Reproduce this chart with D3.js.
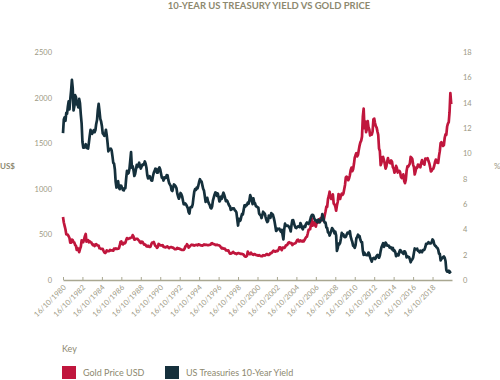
<!DOCTYPE html>
<html>
<head>
<meta charset="utf-8">
<script src="https://cdn.jsdelivr.net/npm/d3@7"></script>
<style>
body { margin: 0; background: #fff; }
text { font-family: Lato, "Open Sans", sans-serif; }
</style>
</head>
<body>
<script>
// monthly values, first one is 16/10/1980
var goldPrice = [
  690, 630, 594,
  557, 500, 499, 495, 480, 460, 409, 410, 443, 437, 413, 410,
  384, 374, 330, 350, 334, 305, 339, 364, 435, 422, 415, 444,
  481, 505, 420, 432, 438, 413, 423, 416, 411, 394, 382, 388,
  371, 388, 394, 381, 377, 378, 348, 348, 341, 340, 341, 320,
  303, 296, 304, 325, 316, 317, 317, 330, 323, 325, 325, 322,
  345, 339, 346, 340, 342, 343, 348, 376, 418, 423, 396, 390,
  408, 401, 408, 438, 460, 450, 450, 460, 460, 466, 466, 492,
  477, 443, 443, 452, 451, 451, 437, 432, 412, 406, 420, 419,
  404, 388, 390, 384, 371, 367, 375, 365, 362, 367, 393, 409,
  410, 417, 393, 374, 369, 352, 362, 395, 389, 380, 381, 378,
  383, 364, 363, 358, 357, 367, 368, 356, 349, 359, 360, 361,
  354, 354, 345, 338, 337, 341, 353, 343, 345, 344, 335, 334,
  329, 329, 330, 342, 367, 372, 392, 378, 355, 364, 374, 383,
  387, 382, 384, 377, 381, 385, 385, 380, 391, 389, 384, 379,
  379, 376, 382, 391, 385, 387, 386, 383, 383, 383, 386, 387,
  400, 405, 396, 393, 392, 385, 383, 387, 383, 381, 378, 369,
  355, 346, 352, 344, 344, 341, 324, 324, 323, 325, 306, 289,
  289, 297, 296, 308, 299, 292, 293, 284, 289, 296, 294, 291,
  287, 287, 286, 282, 277, 261, 256, 257, 265, 311, 293, 283,
  284, 300, 286, 280, 275, 285, 282, 274, 273, 270, 266, 272,
  266, 262, 263, 261, 272, 270, 268, 273, 283, 283, 276, 276,
  282, 296, 294, 302, 314, 322, 314, 310, 319, 317, 319, 333,
  357, 359, 340, 328, 355, 356, 351, 360, 379, 379, 389, 407,
  414, 405, 406, 404, 384, 392, 398, 401, 406, 420, 439, 442,
  424, 423, 434, 429, 422, 431, 424, 438, 456, 470, 476, 510,
  549, 555, 557, 610, 676, 596, 633, 632, 599, 585, 627, 629,
  631, 665, 655, 679, 667, 655, 665, 665, 712, 754, 806, 803,
  889, 922, 968, 909, 888, 889, 939, 839, 829, 806, 760, 816,
  858, 943, 924, 890, 928, 946, 934, 949, 996, 1043, 1127, 1134,
  1118, 1095, 1113, 1149, 1205, 1232, 1193, 1215, 1271, 1342, 1370, 1391,
  1356, 1372, 1424, 1474, 1510, 1528, 1572, 1790, 1880, 1665, 1739, 1620,
  1656, 1742, 1674, 1650, 1585, 1596, 1594, 1626, 1760, 1770, 1721, 1688,
  1671, 1627, 1593, 1440, 1414, 1260, 1286, 1347, 1349, 1316, 1275, 1221,
  1244, 1300, 1336, 1299, 1288, 1279, 1311, 1296, 1238, 1222, 1176, 1200,
  1251, 1227, 1178, 1198, 1198, 1182, 1131, 1117, 1125, 1159, 1086, 1062,
  1097, 1199, 1246, 1242, 1260, 1276, 1350, 1341, 1326, 1266, 1238, 1157,
  1192, 1234, 1231, 1266, 1246, 1260, 1236, 1283, 1315, 1280, 1275, 1265,
  1331, 1331, 1324, 1335, 1304, 1281, 1238, 1190, 1198, 1215, 1221, 1250,
  1291, 1320, 1301, 1286, 1284, 1359, 1413, 1500, 1511, 1495, 1470, 1480,
  1560, 1597, 1592, 1683, 1715, 1732, 1840, 2050, 1930
];

var treasuryYield = [
  11.6, 12.68, 12.84,
  12.57, 13.19, 13.12, 13.68, 14.10, 13.47, 14.28, 14.94, 15.8, 15.15, 13.39, 13.72,
  14.59, 14.43, 13.86, 13.87, 13.62, 14.30, 13.95, 13.06, 12.34, 10.91, 10.45, 10.54,
  10.46, 10.72, 10.51, 10.40, 10.38, 10.85, 11.38, 11.85, 11.65, 11.54, 11.69, 11.83,
  11.67, 11.84, 12.32, 12.63, 13.41, 13.9, 13.36, 12.72, 12.52, 12.16, 11.57, 11.50,
  11.38, 11.51, 11.86, 11.43, 10.85, 10.16, 10.31, 10.33, 10.37, 10.24, 9.78, 9.26,
  9.19, 8.70, 7.78, 7.30, 7.71, 7.80, 7.30, 7.17, 7.45, 7.43, 7.25, 7.11,
  7.08, 7.25, 7.25, 8.02, 8.61, 8.40, 8.45, 8.76, 9.42, 10.1, 8.86, 8.99,
  8.67, 8.21, 8.37, 8.72, 9.09, 8.92, 9.06, 9.26, 8.98, 8.80, 8.96, 9.11,
  9.09, 9.17, 9.36, 9.18, 8.86, 8.28, 8.02, 8.11, 8.19, 8.01, 7.87, 7.84,
  8.21, 8.47, 8.59, 8.79, 8.76, 8.48, 8.47, 8.75, 8.89, 8.72, 8.39, 8.08,
  8.09, 7.85, 8.11, 8.04, 8.07, 8.28, 8.27, 7.90, 7.65, 7.53, 7.42, 7.09,
  7.03, 7.34, 7.54, 7.48, 7.39, 7.26, 6.84, 6.59, 6.42, 6.59, 6.87, 6.77,
  6.60, 6.26, 5.98, 5.97, 6.04, 5.96, 5.81, 5.68, 5.36, 5.25, 5.72, 5.77,
  5.75, 5.97, 6.48, 6.97, 7.18, 7.10, 7.30, 7.24, 7.46, 7.74, 7.96, 7.81,
  7.78, 7.47, 7.20, 7.06, 6.63, 6.17, 6.28, 6.49, 6.20, 6.04, 5.93, 5.71,
  5.65, 5.81, 6.27, 6.51, 6.74, 6.91, 6.87, 6.64, 6.83, 6.53, 6.20, 6.30,
  6.58, 6.42, 6.69, 6.89, 6.71, 6.49, 6.22, 6.30, 6.21, 6.03, 5.88, 5.81,
  5.54, 5.57, 5.65, 5.64, 5.65, 5.50, 5.46, 5.34, 4.81, 4.3, 4.83, 4.65,
  4.72, 5.00, 5.23, 5.18, 5.54, 5.90, 5.79, 5.94, 5.92, 6.11, 6.03, 6.28,
  6.7, 6.52, 6.26, 5.99, 6.44, 6.10, 6.05, 5.83, 5.80, 5.74, 5.72, 5.24,
  5.16, 5.10, 4.89, 5.14, 5.39, 5.28, 5.24, 4.97, 4.73, 4.57, 4.65, 5.09,
  5.04, 4.91, 5.28, 5.21, 5.16, 4.93, 4.65, 4.26, 3.87, 3.94, 4.05, 4.03,
  4.05, 3.90, 3.81, 3.96, 3.57, 3.2, 3.98, 4.45, 4.27, 4.29, 4.30, 4.27,
  4.15, 4.08, 3.83, 4.35, 4.72, 4.73, 4.50, 4.28, 4.13, 4.10, 4.19, 4.23,
  4.22, 4.17, 4.50, 4.34, 4.14, 4.00, 4.18, 4.26, 4.20, 4.46, 4.54, 4.47,
  4.42, 4.57, 4.72, 4.99, 5.11, 5.15, 5.09, 4.88, 4.72, 4.73, 4.60, 4.56,
  4.76, 4.72, 4.56, 4.69, 4.75, 5.20, 5.00, 4.67, 4.52, 4.53, 4.15, 4.10,
  3.74, 3.74, 3.51, 3.68, 3.88, 4.10, 4.01, 3.89, 3.69, 3.81, 3.53, 2.3,
  2.52, 2.87, 2.82, 2.93, 3.29, 3.72, 3.56, 3.59, 3.40, 3.39, 3.40, 3.59,
  3.73, 3.69, 3.73, 3.85, 3.42, 3.20, 3.01, 2.70, 2.65, 2.54, 2.76, 3.29,
  3.39, 3.58, 3.41, 3.46, 3.17, 3.00, 3.00, 2.30, 1.98, 2.15, 2.01, 1.98,
  1.97, 1.97, 2.17, 2.05, 1.80, 1.62, 1.45, 1.68, 1.72, 1.75, 1.65, 1.72,
  1.91, 1.98, 1.96, 1.76, 1.93, 2.30, 2.58, 2.74, 2.9, 2.62, 2.72, 2.95,
  2.86, 2.71, 2.72, 2.71, 2.56, 2.60, 2.54, 2.42, 2.53, 2.30, 2.33, 2.21,
  1.88, 1.98, 2.04, 1.94, 2.20, 2.36, 2.32, 2.17, 2.17, 2.07, 2.26, 2.24,
  2.09, 1.78, 1.89, 1.81, 1.81, 1.64, 1.40, 1.56, 1.63, 1.76, 2.14, 2.49,
  2.43, 2.42, 2.48, 2.30, 2.30, 2.19, 2.32, 2.21, 2.20, 2.36, 2.35, 2.40,
  2.58, 2.86, 2.84, 2.87, 2.98, 2.91, 2.89, 2.89, 3.00, 3.2, 3.12, 2.83,
  2.71, 2.68, 2.57, 2.53, 2.40, 2.07, 2.06, 1.55, 1.70, 1.71, 1.81, 1.86,
  1.76, 1.50, 0.8, 0.66, 0.67, 0.73, 0.58, 0.65, 0.68
];

var tickYears = [1980, 1982, 1984, 1986, 1988, 1990, 1992, 1994, 1996, 1998,
  2000, 2002, 2004, 2006, 2008, 2010, 2012, 2014, 2016, 2018];
var leftTicks = [0, 500, 1000, 1500, 2000, 2500];
var rightTicks = [0, 2, 4, 6, 8, 10, 12, 14, 16, 18];
var seriesNames = ["Gold Price USD", "US Treasuries 10-Year Yield"];
var seriesColors = ["#c0163d", "#15303c"];

var textColor = "#9c9883";
var width = 500, height = 380;

var svg = d3.select("body").append("svg")
  .attr("width", width)
  .attr("height", height);

function monthDate(i) { return new Date(1980, 9 + i, 16); }

var x = d3.scaleTime()
  .domain([new Date(1980, 9, 16), new Date(2020, 9, 16)])
  .range([63, 452]);
var yLeft = d3.scaleLinear().domain([0, 2500]).range([280, 52]);
var yRight = d3.scaleLinear().domain([0, 18]).range([280, 52]);

// title
svg.append("text")
  .attr("x", 269).attr("y", 9)
  .attr("text-anchor", "middle")
  .style("font-size", "9.5px").style("font-weight", "bold")
  .style("fill", "#8d896f")
  .text("10-YEAR US TREASURY YIELD VS GOLD PRICE");

// left axis labels
svg.append("g").selectAll("text")
  .data(leftTicks).enter().append("text")
  .attr("x", 52).attr("y", function(d){ return yLeft(d) + 3; })
  .attr("text-anchor", "end")
  .style("font-size", "7.5px").style("fill", textColor)
  .text(function(d){ return d; });

svg.append("g").selectAll("text")
  .data(rightTicks).enter().append("text")
  .attr("x", 463).attr("y", function(d){ return yRight(d) + 3; })
  .style("font-size", "7.5px").style("fill", textColor)
  .text(function(d){ return d; });

svg.append("text").attr("x", 0).attr("y", 169)
  .style("font-size", "8px").style("font-weight", "bold").style("fill", "#8d896f")
  .text("US$");
svg.append("text").attr("x", 494).attr("y", 169)
  .style("font-size", "8px").style("fill", textColor)
  .text("%");

// x axis
var xAxis = d3.axisBottom(x)
  .tickValues(tickYears.map(function(y){ return new Date(y, 9, 16); }))
  .tickSizeInner(-3).tickSizeOuter(0)
  .tickFormat(d3.timeFormat("%d/%m/%Y"));

var gx = svg.append("g").attr("transform", "translate(0,280)").call(xAxis);
gx.select(".domain").attr("stroke", "#a9a791").attr("stroke-width", 1.5);
gx.selectAll(".tick line").attr("stroke", "#a9a791");
gx.selectAll(".tick text")
  .attr("x", 0).attr("y", 0).attr("dy", 0)
  .attr("text-anchor", "end")
  .attr("transform", "translate(3,8) rotate(-45)")
  .style("font-size", "7.5px").style("fill", textColor)
  .style("font-family", "Lato, sans-serif");

// lines
var goldLine = d3.line()
  .x(function(d, i){ return x(monthDate(i)); })
  .y(function(d){ return yLeft(d); });
var yieldLine = d3.line()
  .x(function(d, i){ return x(monthDate(i)); })
  .y(function(d){ return yRight(d); });

svg.append("path").datum(goldPrice)
  .attr("d", goldLine)
  .attr("fill", "none").attr("stroke", seriesColors[0])
  .attr("stroke-width", 2.7).attr("stroke-linejoin", "round");

svg.append("path").datum(treasuryYield)
  .attr("d", yieldLine)
  .attr("fill", "none").attr("stroke", seriesColors[1])
  .attr("stroke-width", 2.7).attr("stroke-linejoin", "round");

// legend
svg.append("text").attr("x", 62).attr("y", 352)
  .style("font-size", "9px").style("fill", "#8d896f")
  .text("Key");

var legendX = [62, 165];
var leg = svg.append("g").selectAll("g")
  .data(seriesNames).enter().append("g")
  .attr("transform", function(d, i){ return "translate(" + legendX[i] + ",366)"; });
leg.append("rect").attr("width", 14).attr("height", 13)
  .attr("fill", function(d, i){ return seriesColors[i]; });
leg.append("text").attr("x", 21).attr("y", 10)
  .style("font-size", "9px").style("fill", "#8d896f")
  .text(function(d){ return d; });
</script>
</body>
</html>
